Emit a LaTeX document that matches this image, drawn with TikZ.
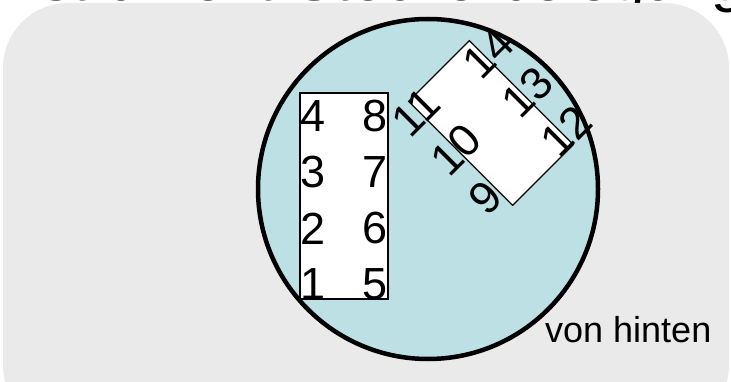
\documentclass[tikz,border=0pt]{standalone}
\usepackage{fontspec}
\setmainfont{Liberation Sans}
\usetikzlibrary{positioning}

\definecolor{panelgray}{RGB}{234,234,234}
\definecolor{plugblue}{RGB}{189,224,229}

\begin{document}
\begin{tikzpicture}[
    x=1pt, y=-1pt,
    pinnum/.style={inner sep=0pt, font=\fontsize{45}{45}\selectfont},
    plugbox/.style={rectangle, draw, line width=1.2pt, fill=white, inner sep=0pt},
    labeltext/.style={inner sep=0pt, font=\fontsize{36}{36}\selectfont}
  ]
    \useasboundingbox (0,0) rectangle (731,382);

    % Title (cut off at the top)
    \node[labeltext, anchor=base east, font=\fontsize{60}{60}\selectfont] (title) at (745,1) {Instrument-Steckerbelegung};

    % Panel
    \fill[panelgray, rounded corners=65pt] (3,3) rectangle (729,430);

    % Plug face
    \node[circle, draw, line width=4.5pt, fill=plugblue, minimum size=340pt, inner sep=0pt] (face) at (428,189) {};

    % Pins 1 to 8
    \node[plugbox, minimum width=88pt, minimum height=206pt] (plugA) at (344,196) {};
    \foreach \n/\m [count=\i] in {4/8, 3/7, 2/6, 1/5} {
      \node[pinnum, anchor=west] (pin\n) at (300, 60.5+56*\i) {\n};
      \node[pinnum, anchor=east] (pin\m) at (388, 60.5+56*\i) {\m};
    }

    % Pins 9 to 14
    \begin{scope}[shift={(491,123)}, rotate=45, transform shape]
      \node[plugbox, minimum width=86pt, minimum height=147pt] (plugB) at (0,0) {};
      \foreach \n/\m [count=\i] in {11/14, 10/13, 9/12} {
        \node[pinnum, anchor=west] (pin\n) at (-69, -116+55*\i) {\n};
        \node[pinnum, anchor=east] (pin\m) at (73, -106+55*\i) {\m};
      }
    \end{scope}

    % View note
    \node[labeltext, anchor=base west] (side) at (545,342) {von hinten};
  \end{tikzpicture}
\end{document}
